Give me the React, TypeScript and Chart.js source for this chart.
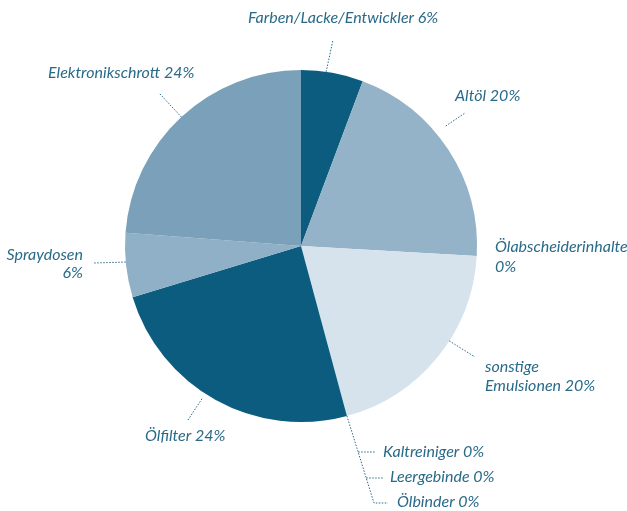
import React, { useEffect, useRef } from "react";
import { Chart, registerables } from "chart.js";

Chart.register(...registerables);

const categories = [
  "Farben/Lacke/Entwickler",
  "Altöl",
  "Ölabscheiderinhalte",
  "sonstige Emulsionen",
  "Kaltreiniger",
  "Leergebinde",
  "Ölbinder",
  "Ölfilter",
  "Spraydosen",
  "Elektronikschrott",
];
const shares = [5.7, 20.2, 0, 19.9, 0, 0, 0, 24.5, 5.9, 23.8];
const sliceColors = [
  "#0b5c7e",
  "#94b3c9",
  "#94b3c9",
  "#d6e3ed",
  "#d6e3ed",
  "#d6e3ed",
  "#d6e3ed",
  "#0b5c7e",
  "#8fb0c6",
  "#7aa0ba",
];
// text lines for each label (category + percent)
const labelLines = [
  ["Farben/Lacke/Entwickler 6%"],
  ["Altöl 20%"],
  ["Ölabscheiderinhalte", "0%"],
  ["sonstige", "Emulsionen 20%"],
  ["Kaltreiniger 0%"],
  ["Leergebinde 0%"],
  ["Ölbinder 0%"],
  ["Ölfilter 24%"],
  ["Spraydosen", "6%"],
  ["Elektronikschrott 24%"],
];

const TEXT_COLOR = "#2a6a89";
const FONT = "italic 16px Lato, 'Open Sans', sans-serif";

type Layout = {
  x: number;
  y: number[];
  align: CanvasTextAlign;
  leader?: { frac: number; dr: number; to: [number, number] };
};

const layout: Layout[] = [
  { x: 248, y: [18], align: "left", leader: { frac: 0.4, dr: 0, to: [333, 40] } },
  { x: 455, y: [96], align: "left", leader: { frac: 0.41, dr: 12, to: [465, 113] } },
  { x: 495, y: [247, 267], align: "left" },
  { x: 485, y: [367, 386], align: "left", leader: { frac: 0.41, dr: 0, to: [475, 357] } },
  { x: 383, y: [452], align: "left" },
  { x: 390, y: [477], align: "left" },
  { x: 397, y: [502], align: "left" },
  { x: 145, y: [436], align: "left", leader: { frac: 0.545, dr: 6, to: [188, 420] } },
  { x: 83, y: [255, 273], align: "right", leader: { frac: 0.55, dr: 0, to: [94, 263] } },
  { x: 48, y: [73], align: "left", leader: { frac: 0.5, dr: 0, to: [159, 93] } },
];

const labelPlugin = {
  id: "pieLabels",
  afterDraw(chart: any) {
    const ctx = chart.ctx as CanvasRenderingContext2D;
    const meta = chart.getDatasetMeta(0);
    ctx.save();
    ctx.strokeStyle = TEXT_COLOR;
    ctx.lineWidth = 1;
    ctx.setLineDash([1.5, 1.5]);
    const pointOn = (arc: any, frac: number, dr: number) => {
      const a = arc.startAngle + (arc.endAngle - arc.startAngle) * frac;
      const r = arc.outerRadius + dr;
      return [arc.x + Math.cos(a) * r, arc.y + Math.sin(a) * r];
    };
    layout.forEach((l, i) => {
      if (!l.leader) return;
      const arc = meta.data[i];
      const [sx, sy] = pointOn(arc, l.leader.frac, l.leader.dr);
      ctx.beginPath();
      ctx.moveTo(sx, sy);
      ctx.lineTo(l.leader.to[0], l.leader.to[1]);
      ctx.stroke();
    });
    // group leader for the zero slices at the Emulsionen / Ölfilter boundary
    const zArc = meta.data[4];
    const [zx, zy] = pointOn(zArc, 0, 0);
    const bottom: [number, number] = [374, 503];
    ctx.beginPath();
    ctx.moveTo(zx, zy);
    ctx.lineTo(bottom[0], bottom[1]);
    ctx.lineTo(388, 503);
    ctx.stroke();
    const branch = (y: number, xEnd: number) => {
      const t = (y - zy) / (bottom[1] - zy);
      const x = zx + (bottom[0] - zx) * t;
      ctx.beginPath();
      ctx.moveTo(x, y);
      ctx.lineTo(xEnd, y);
      ctx.stroke();
    };
    branch(452, 376);
    branch(478, 383);
    ctx.setLineDash([]);

    ctx.fillStyle = TEXT_COLOR;
    ctx.font = FONT;
    ctx.textBaseline = "middle";
    layout.forEach((l, i) => {
      ctx.textAlign = l.align;
      labelLines[i].forEach((line, j) => {
        ctx.fillText(line, l.x, l.y[j]);
      });
    });
    ctx.restore();
  },
};

export default function App() {
  const ref = useRef<HTMLCanvasElement | null>(null);
  useEffect(() => {
    if (!ref.current) return;
    const chart = new Chart(ref.current, {
      type: "pie",
      data: {
        labels: categories,
        datasets: [
          {
            data: shares,
            backgroundColor: sliceColors,
            borderWidth: 0,
          },
        ],
      },
      options: {
        animation: false,
        responsive: false,
        layout: { padding: { left: 125, right: 150, top: 70, bottom: 89 } },
        plugins: {
          legend: { display: false },
          tooltip: { enabled: false },
        },
      },
      plugins: [labelPlugin],
    });
    return () => chart.destroy();
  }, []);
  return (
    <div style={{ position: "fixed", left: 0, top: 0, width: 627, height: 511, background: "#fff" }}>
      <canvas ref={ref} width={627} height={511} style={{ width: 627, height: 511 }} />
    </div>
  );
}
